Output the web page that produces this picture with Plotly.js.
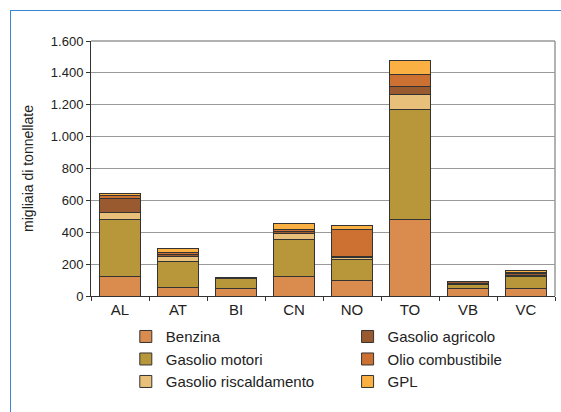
<!DOCTYPE html>
<html>
<head>
<meta charset="utf-8">
<script src="https://cdn.plot.ly/plotly-3.0.1.min.js"></script>
<style>
  html, body { margin: 0; padding: 0; background: #fff; }
  #wrap { position: relative; width: 561px; height: 412px; overflow: hidden; }
  #chart { position: absolute; left: 0; top: 0; width: 561px; height: 412px; }
  #frame { position: absolute; left: 10px; top: 10px; width: 700px; height: 600px;
           border-left: 1.5px solid #3a86d6; border-top: 1.5px solid #3a86d6; pointer-events: none; }
</style>
</head>
<body>
<div id="wrap">
  <div id="chart"></div>
  <div id="frame"></div>
</div>
<script>
const categories = ["AL", "AT", "BI", "CN", "NO", "TO", "VB", "VC"];
const benzina            = [122, 55, 48, 123, 98, 479, 44, 48];
const gasolioMotori      = [357, 160, 59, 233, 132, 694, 31, 73];
const gasolioRisc        = [47, 36, 2, 36, 12, 94, 2, 6];
const gasolioAgricolo    = [84, 12, 7, 14, 5, 45, 12, 15];
const olioCombustibile   = [18, 11, 2, 11, 170, 80, 3, 4];
const gpl                = [16, 21, 1, 41, 27, 87, 2, 11];
const yTicks = [0, 200, 400, 600, 800, 1000, 1200, 1400, 1600];

const series = [
  {name: "Benzina", y: benzina, color: "#d98c4e", legend: "legend"},
  {name: "Gasolio motori", y: gasolioMotori, color: "#b8963a", legend: "legend"},
  {name: "Gasolio riscaldamento", y: gasolioRisc, color: "#e8c07a", legend: "legend"},
  {name: "Gasolio agricolo", y: gasolioAgricolo, color: "#985a2e", legend: "legend2"},
  {name: "Olio combustibile", y: olioCombustibile, color: "#cd7132", legend: "legend2"},
  {name: "GPL", y: gpl, color: "#fbb043", legend: "legend2"}
];

const traces = series.map(s => ({
  type: "bar",
  name: s.name,
  x: categories,
  y: s.y,
  legend: s.legend,
  marker: {color: s.color, line: {color: "#333333", width: 1}},
  hoverinfo: "x+y+name"
}));

const legendFont = {family: "Liberation Sans, Arial, sans-serif", size: 15, color: "#222"};

const layout = {
  width: 561, height: 412,
  margin: {l: 91, r: 6, t: 41, b: 116},
  paper_bgcolor: "#ffffff",
  plot_bgcolor: "#ffffff",
  barmode: "stack",
  bargap: 0.29,
  separators: ",.",
  font: {family: "Liberation Sans, Arial, sans-serif", size: 13, color: "#222"},
  xaxis: {
    type: "category",
    tickson: "boundaries",
    ticks: "outside", ticklen: 4, tickcolor: "#333",
    showline: true, linecolor: "#333", linewidth: 1,
    mirror: false,
    tickfont: {size: 15, color: "#222"},
    showgrid: false,
    fixedrange: true
  },
  yaxis: {
    range: [0, 1600],
    tickvals: yTicks,
    tickformat: ",d",
    ticks: "outside", ticklen: 4, tickcolor: "#333",
    showline: true, linecolor: "#333", linewidth: 1,
    showgrid: true, gridcolor: "#999999", gridwidth: 1,
    zeroline: false,
    tickfont: {size: 13, color: "#222"},
    title: {text: "migliaia di tonnellate", font: {size: 14, color: "#222"}, standoff: 13},
    fixedrange: true
  },
  shapes: [
    {type: "line", xref: "paper", yref: "paper", x0: 0, x1: 1, y0: 1, y1: 1,
     line: {color: "#999999", width: 1.5}},
    {type: "line", xref: "paper", yref: "paper", x0: 1, x1: 1, y0: 0, y1: 1,
     line: {color: "#999999", width: 1.5}}
  ],
  showlegend: true,
  legend: {
    x: 0.075, y: -0.095, xanchor: "left", yanchor: "top",
    orientation: "v", font: legendFont, tracegroupgap: 0,
    bgcolor: "rgba(0,0,0,0)", itemclick: false, itemdoubleclick: false,
    traceorder: "normal"
  },
  legend2: {
    x: 0.553, y: -0.095, xanchor: "left", yanchor: "top",
    orientation: "v", font: legendFont, tracegroupgap: 0,
    bgcolor: "rgba(0,0,0,0)", itemclick: false, itemdoubleclick: false,
    traceorder: "normal"
  }
};

Plotly.newPlot("chart", traces, layout, {displayModeBar: false, staticPlot: true});
</script>
</body>
</html>
